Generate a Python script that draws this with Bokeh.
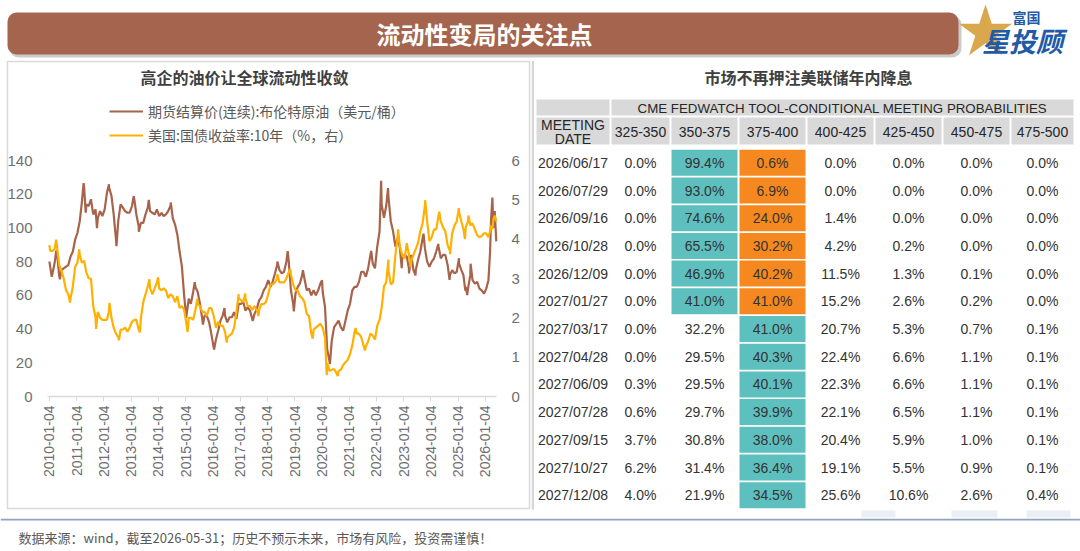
import math
import pandas as pd
from bokeh.plotting import figure
from bokeh.layouts import column, row
from bokeh.models import (Range1d, LinearAxis, FixedTicker, DatetimeTickFormatter,
                          Legend, LegendItem, Label, BoxAnnotation, ColumnDataSource)
from bokeh.core.properties import value
from bokeh.embed import file_html
from bokeh.resources import INLINE

# ---------------------------------------------------------------- data
# Brent front-month settlement (USD/bbl), mid-month readings 2010-01 .. 2025-12
brent_monthly = [
    77, 73, 79, 86, 72, 75, 76, 77, 78, 83, 86, 93,          # 2010
    97, 104, 115, 124, 114, 113, 117, 108, 111, 106, 110, 107,  # 2011
    111, 121, 124, 119, 108, 93, 104, 114, 112, 110, 109, 109,  # 2012
    113, 117, 108, 101, 103, 103, 108, 112, 110, 109, 108, 111,  # 2013
    107, 109, 107, 108, 110, 113, 106, 102, 96, 86, 77, 60,     # 2014
    48, 58, 55, 62, 65, 62, 55, 46, 48, 48, 44, 37,            # 2015
    29, 34, 39, 45, 48, 48, 44, 47, 47, 50, 46, 55,            # 2016
    55, 56, 51, 53, 51, 46, 49, 52, 57, 59, 63, 65,            # 2017
    69, 65, 68, 73, 78, 75, 73, 74, 80, 81, 63, 55,            # 2018
    61, 65, 67, 72, 70, 63, 64, 60, 63, 60, 63, 67,            # 2019
    62, 53, 28, 21, 33, 41, 43, 45, 41, 39, 45, 51,            # 2020
    55, 63, 65, 65, 68, 74, 74, 71, 76, 84, 79, 76,            # 2021
    89, 98, 114, 106, 113, 118, 104, 98, 89, 94, 88, 82,       # 2022
    84, 83, 76, 84, 75, 75, 81, 86, 94, 88, 80, 77,            # 2023
    80, 82, 86, 89, 82, 84, 84, 78, 72, 75, 73, 74,            # 2024
    79, 75, 72, 65, 64, 72, 69, 67, 68, 64, 63, 61,            # 2025
]
# turning points and the 2026 stretch
brent_extra_dates = [
    "2010-01-04", "2010-02-05", "2010-04-06", "2010-05-25", "2011-04-08", "2011-05-06",
    "2011-10-04", "2012-03-13", "2012-06-21", "2013-02-08", "2013-04-17", "2013-08-28",
    "2014-06-19", "2015-01-13", "2015-05-06", "2015-08-24", "2016-01-20", "2016-06-08",
    "2017-06-21", "2018-05-17", "2018-10-03", "2018-12-24", "2019-04-25", "2020-01-06",
    "2020-04-21", "2021-10-26", "2022-03-08", "2022-06-08", "2022-12-09", "2023-03-17",
    "2023-06-12", "2023-09-27", "2024-04-12", "2024-09-10", "2025-01-15", "2025-04-09",
    "2025-05-05", "2025-06-19",
    "2026-01-15", "2026-02-13", "2026-03-06", "2026-03-20", "2026-04-07", "2026-04-20",
    "2026-05-08", "2026-05-29",
]
brent_extra = [
    80.1, 71.0, 86.5, 69.5, 126.6, 109.1,
    99.8, 125.9, 89.2, 118.9, 97.7, 116.6,
    115.1, 46.6, 67.8, 42.7, 27.9, 52.5,
    44.8, 80.0, 86.3, 50.5, 75.0, 68.9,
    19.3, 86.4, 128.0, 123.6, 76.1, 73.0,
    71.8, 96.6, 90.5, 69.2, 82.0, 62.8,
    60.2, 78.8,
    64, 69, 85, 105, 118, 100,
    110, 92,
]

# US 10Y Treasury yield (%), mid-month readings 2010-01 .. 2025-12
ust10y_monthly = [
    3.70, 3.70, 3.75, 3.85, 3.35, 3.20, 3.00, 2.70, 2.60, 2.50, 2.80, 3.30,  # 2010
    3.40, 3.60, 3.40, 3.45, 3.15, 3.00, 3.00, 2.30, 2.00, 2.15, 2.00, 1.95,  # 2011
    1.95, 1.95, 2.20, 2.00, 1.75, 1.60, 1.50, 1.70, 1.70, 1.75, 1.65, 1.75,  # 2012
    1.90, 1.95, 1.95, 1.70, 2.00, 2.40, 2.60, 2.80, 2.75, 2.60, 2.75, 2.90,  # 2013
    2.75, 2.70, 2.75, 2.70, 2.50, 2.60, 2.55, 2.40, 2.55, 2.25, 2.30, 2.20,  # 2014
    1.85, 2.00, 2.00, 1.95, 2.20, 2.35, 2.30, 2.15, 2.15, 2.05, 2.25, 2.25,  # 2015
    2.05, 1.75, 1.90, 1.80, 1.80, 1.65, 1.50, 1.55, 1.60, 1.75, 2.15, 2.50,  # 2016
    2.45, 2.40, 2.50, 2.30, 2.30, 2.20, 2.30, 2.20, 2.20, 2.35, 2.35, 2.40,  # 2017
    2.60, 2.85, 2.85, 2.90, 3.00, 2.90, 2.90, 2.90, 3.00, 3.15, 3.10, 2.85,  # 2018
    2.70, 2.70, 2.55, 2.50, 2.40, 2.10, 2.05, 1.60, 1.70, 1.75, 1.80, 1.85,  # 2019
    1.75, 1.50, 0.85, 0.65, 0.68, 0.70, 0.60, 0.65, 0.68, 0.80, 0.87, 0.93,  # 2020
    1.08, 1.30, 1.62, 1.60, 1.60, 1.50, 1.30, 1.28, 1.40, 1.60, 1.55, 1.45,  # 2021
    1.80, 1.95, 2.25, 2.80, 2.90, 3.20, 2.85, 2.90, 3.60, 4.05, 3.80, 3.60,  # 2022
    3.50, 3.90, 3.60, 3.45, 3.60, 3.75, 3.90, 4.20, 4.40, 4.85, 4.45, 3.95,  # 2023
    4.05, 4.25, 4.25, 4.60, 4.45, 4.30, 4.20, 3.85, 3.70, 4.15, 4.35, 4.45,  # 2024
    4.70, 4.45, 4.25, 4.30, 4.45, 4.35, 4.40, 4.25, 4.10, 4.05, 4.08, 4.15,  # 2025
]
ust10y_extra_dates = [
    "2010-01-04", "2010-04-05", "2010-10-08", "2011-02-08", "2011-09-22", "2012-03-19",
    "2012-07-25", "2013-05-02", "2013-09-05", "2013-12-31", "2015-01-30", "2015-06-10",
    "2016-07-08", "2016-12-15", "2017-03-13", "2017-09-07", "2018-05-17", "2018-11-08",
    "2019-09-03", "2020-03-09", "2020-08-04", "2021-03-31", "2021-08-04", "2022-06-14",
    "2022-10-21", "2023-04-06", "2023-10-19", "2024-04-25", "2024-09-16", "2025-01-13",
    "2025-04-04", "2025-05-21",
    "2026-01-15", "2026-02-13", "2026-03-06", "2026-03-20", "2026-04-07", "2026-04-20",
    "2026-05-08", "2026-05-29",
]
ust10y_extra = [
    3.85, 3.99, 2.39, 3.74, 1.72, 2.38,
    1.43, 1.63, 2.98, 3.03, 1.64, 2.49,
    1.37, 2.60, 2.62, 2.05, 3.11, 3.24,
    1.47, 0.54, 0.52, 1.74, 1.17, 3.48,
    4.25, 3.29, 4.99, 4.70, 3.62, 4.79,
    4.00, 4.60,
    4.15, 4.05, 4.20, 4.35, 4.25, 4.50,
    4.60, 4.45,
]

year_ticks = ["2010-01-04", "2011-01-04", "2012-01-04", "2013-01-04", "2014-01-04",
              "2015-01-04", "2016-01-04", "2017-01-04", "2018-01-04", "2019-01-04",
              "2020-01-04", "2021-01-04", "2022-01-04", "2023-01-04", "2024-01-04",
              "2025-01-04", "2026-01-04"]
brent_ticks = [0, 20, 40, 60, 80, 100, 120, 140]
ust_ticks = [0, 1, 2, 3, 4, 5, 6]

# CME FedWatch conditional meeting probabilities (%)
meeting_dates = ["2026/06/17", "2026/07/29", "2026/09/16", "2026/10/28", "2026/12/09",
                 "2027/01/27", "2027/03/17", "2027/04/28", "2027/06/09", "2027/07/28",
                 "2027/09/15", "2027/10/27", "2027/12/08"]
rate_bins = ["325-350", "350-375", "375-400", "400-425", "425-450", "450-475", "475-500"]
current_bin = "375-400"
probs = [
    [0.0, 99.4, 0.6, 0.0, 0.0, 0.0, 0.0],
    [0.0, 93.0, 6.9, 0.0, 0.0, 0.0, 0.0],
    [0.0, 74.6, 24.0, 1.4, 0.0, 0.0, 0.0],
    [0.0, 65.5, 30.2, 4.2, 0.2, 0.0, 0.0],
    [0.0, 46.9, 40.2, 11.5, 1.3, 0.1, 0.0],
    [0.0, 41.0, 41.0, 15.2, 2.6, 0.2, 0.0],
    [0.0, 32.2, 41.0, 20.7, 5.3, 0.7, 0.1],
    [0.0, 29.5, 40.3, 22.4, 6.6, 1.1, 0.1],
    [0.3, 29.5, 40.1, 22.3, 6.6, 1.1, 0.1],
    [0.6, 29.7, 39.9, 22.1, 6.5, 1.1, 0.1],
    [3.7, 30.8, 38.0, 20.4, 5.9, 1.0, 0.1],
    [6.2, 31.4, 36.4, 19.1, 5.5, 0.9, 0.1],
    [4.0, 21.9, 34.5, 25.6, 10.6, 2.6, 0.4],
]

# ---------------------------------------------------------------- styling
BROWN = "#A8634B"
GOLD = "#FFB000"
TEAL = "#5EBFBF"
ORANGE = "#F5891F"
HEAD_GRAY = "#D9D9D9"
AXIS_TXT = "#6E6E6E"
CJK = "Noto Sans CJK SC"
SANS = "Liberation Sans"

# chart panel geometry (pixels inside the 531 x 458 chart figure)
BOX_L, BOX_R, BOX_T, BOX_B = 7, 529, 1, 448      # bordered panel
PLOT_L, PLOT_R = 47, 496                         # x extent of the time axis
Y_ZERO, Y_TOP = 336, 100                         # pixel rows of 0 and 140 (left axis)
X_START, X_END = pd.Timestamp("2009-12-10"), pd.Timestamp("2026-06-01")


def series(monthly, extra_dates, extra_vals):
    months = pd.date_range("2010-01-01", periods=len(monthly), freq="MS") + pd.Timedelta(days=14)
    s = pd.concat([pd.Series(monthly, index=months, dtype=float),
                   pd.Series(extra_vals, index=pd.to_datetime(extra_dates), dtype=float)])
    s = s.sort_index()
    return s.index, s.values


def blank(fig):
    fig.xgrid.grid_line_color = None
    fig.ygrid.grid_line_color = None
    fig.outline_line_color = None
    fig.background_fill_color = "white"
    fig.border_fill_color = "white"


# ---------------------------------------------------------------- header band
head = figure(width=1080, height=60, x_range=Range1d(0, 1080), y_range=Range1d(60, 0),
              x_axis_location=None, y_axis_location=None, title=None,
              output_backend="svg", toolbar_location=None, min_border=0)
blank(head)
head.add_layout(BoxAnnotation(left=9, right=961, top=15, bottom=57, fill_color="#8C8C8C",
                              fill_alpha=0.45, line_color=None, border_radius=9, level="underlay"))
head.add_layout(BoxAnnotation(left=7, right=958, top=12, bottom=54, fill_color="#A5644E",
                              fill_alpha=1, line_color=None, border_radius=9, level="underlay"))
head.text(x=[484], y=[33], text=["流动性变局的关注点"], text_align="center",
          text_baseline="middle", text_color="white", text_font_size="24px",
          text_font_style="bold", text_font=value(CJK))
head.scatter(x=[985], y=[32], marker="star", size=56, fill_color="#D9A74C", line_color=None)
head.text(x=[1026], y=[16], text=["富国"], text_align="center", text_baseline="middle",
          text_color="#1F5BA6", text_font_size="14px", text_font_style="bold",
          text_font=value(CJK))
head.text(x=[1022], y=[40], text=["星投顾"], text_align="center", text_baseline="middle",
          text_color="#1F5BA6", text_font_size="27px", text_font_style="bold italic",
          text_font=value(CJK))

# ---------------------------------------------------------------- line chart
b_dates, b_vals = series(brent_monthly, brent_extra_dates, brent_extra)
u_dates, u_vals = series(ust10y_monthly, ust10y_extra_dates, ust10y_extra)
src_b = ColumnDataSource(dict(date=b_dates, v=b_vals))
src_u = ColumnDataSource(dict(date=u_dates, v=u_vals))

# the frame covers the whole bordered panel; the ranges are widened so that the
# time axis and both value axes sit where the plot area is
start_ms = X_START.value / 1e6
end_ms = X_END.value / 1e6
ms_px = (end_ms - start_ms) / (PLOT_R - PLOT_L)
u_px = 140 / (Y_ZERO - Y_TOP)
x_rng = Range1d(start_ms - (PLOT_L - BOX_L) * ms_px, end_ms + (BOX_R - PLOT_R) * ms_px)
y_rng = Range1d(-(BOX_B - Y_ZERO) * u_px, 140 + (Y_TOP - BOX_T) * u_px)
k = 6 / 140
ust_rng = Range1d(y_rng.start * k, y_rng.end * k)

chart = figure(width=531, height=458, x_axis_type="datetime", x_range=x_rng, y_range=y_rng,
               title=None, output_backend="svg", toolbar_location=None,
               min_border_left=BOX_L, min_border_right=531 - BOX_R,
               min_border_top=BOX_T, min_border_bottom=458 - BOX_B)
blank(chart)
chart.frame_align = False
chart.outline_line_color = "#D9D9D9"
chart.outline_line_width = 1.5
chart.extra_y_ranges = {"ust": ust_rng}

r_b = chart.line("date", "v", source=src_b, line_color=BROWN, line_width=2.2)
r_u = chart.line("date", "v", source=src_u, line_color=GOLD, line_width=2.2, y_range_name="ust")

xa = chart.xaxis[0]
xa.fixed_location = 0
xa.bounds = (start_ms, end_ms)
xa.ticker = FixedTicker(ticks=[pd.Timestamp(d).value // 10**6 for d in year_ticks])
fmt = "%Y-%m-%d"
xa.formatter = DatetimeTickFormatter(milliseconds=fmt, seconds=fmt, minsec=fmt, minutes=fmt,
                                     hourmin=fmt, hours=fmt, days=fmt, months=fmt, years=fmt)
xa.major_label_orientation = math.pi / 2
xa.axis_line_color = "#D9D9D9"
xa.axis_line_width = 1.5
xa.major_tick_line_color = "#D9D9D9"
xa.major_tick_out = 5
xa.major_tick_in = 0
xa.minor_tick_line_color = None
xa.major_label_text_font_size = "14px"
xa.major_label_text_color = AXIS_TXT
xa.major_label_text_font = SANS
xa.major_label_standoff = 4

ya = chart.yaxis[0]
ya.fixed_location = start_ms
ya.ticker = FixedTicker(ticks=brent_ticks)
ya.axis_line_color = None
ya.major_tick_line_color = None
ya.minor_tick_line_color = None
ya.major_label_text_font_size = "15px"
ya.major_label_text_color = AXIS_TXT
ya.major_label_text_font = SANS
ya.major_label_standoff = 9

yr = LinearAxis(y_range_name="ust", ticker=FixedTicker(ticks=ust_ticks), fixed_location=end_ms)
yr.axis_line_color = None
yr.major_tick_line_color = None
yr.minor_tick_line_color = None
yr.major_label_text_font_size = "15px"
yr.major_label_text_color = AXIS_TXT
yr.major_label_text_font = SANS
yr.major_label_standoff = 9
chart.add_layout(yr, "right")

legend = Legend(items=[LegendItem(label="期货结算价(连续):布伦特原油（美元/桶）", renderers=[r_b]),
                       LegendItem(label="美国:国债收益率:10年（%，右）", renderers=[r_u])],
                location=(102, 363), padding=0, margin=0, spacing=4,
                glyph_width=34, glyph_height=20, label_standoff=5,
                label_text_font_size="14px", label_text_color="#595959",
                label_text_font=CJK, border_line_color=None, background_fill_alpha=0)
chart.add_layout(legend)

chart.add_layout(Label(x=237, y=432, x_units="screen", y_units="screen",
                       text="高企的油价让全球流动性收敛", text_align="center",
                       text_baseline="middle", text_font_size="16px", text_font_style="bold",
                       text_color="#404040", text_font=CJK))

# ---------------------------------------------------------------- probability table
tbl = figure(width=549, height=458, x_range=Range1d(531, 1080), y_range=Range1d(518, 60),
             x_axis_location=None, y_axis_location=None, title=None,
             output_backend="svg", toolbar_location=None, min_border=0)
blank(tbl)
tbl.frame_align = False

date_l, date_r = 536, 609
col_l = [611, 671, 739, 807, 875, 943, 1011]
col_r = [669, 737, 805, 873, 941, 1009, 1073]
col_c = [(a + b) / 2 for a, b in zip(col_l, col_r)]
row0, pitch, half = 162.3, 27.7, 13.0
row_c = [row0 + pitch * i for i in range(len(meeting_dates))]

tbl.quad(left=[531], right=[533.5], top=[60], bottom=[509], fill_color="#D6D6D6", line_color=None)
# faint watermark blocks along the lower edge
tbl.quad(left=[861, 951, 1026], right=[895, 997, 1070], top=[510] * 3, bottom=[517] * 3,
         fill_color="#EAEFF6", line_color=None)
tbl.text(x=[808], y=[76], text=["市场不再押注美联储年内降息"], text_align="center",
         text_baseline="middle", text_font_size="16px", text_font_style="bold",
         text_color="#404040", text_font=value(CJK))

# header blocks
tbl.quad(left=[date_l, col_l[0]], right=[date_r, col_r[-1]], top=[99, 99], bottom=[115, 115],
         fill_color=HEAD_GRAY, line_color=None)
tbl.quad(left=[date_l] + col_l, right=[date_r] + col_r, top=[117] * 8, bottom=[144] * 8,
         fill_color=HEAD_GRAY, line_color=None)
tbl.text(x=[(col_l[0] + col_r[-1]) / 2], y=[107.5],
         text=["CME FEDWATCH TOOL-CONDITIONAL MEETING PROBABILITIES"],
         text_align="center", text_baseline="middle", text_font_size="13.3px",
         text_color="#262626", text_font=value(SANS))
tbl.text(x=[(date_l + date_r) / 2] * 2, y=[124, 138.5], text=["MEETING", "DATE"],
         text_align="center", text_baseline="middle", text_font_size="14px",
         text_color="#262626", text_font=value(SANS))
tbl.text(x=col_c, y=[131] * len(rate_bins), text=rate_bins, text_align="center",
         text_baseline="middle", text_font_size="14px", text_color="#262626",
         text_font=value(SANS))

# highlighted cells: most likely bin in teal, current target bin in orange
cur = rate_bins.index(current_bin)
hl_l, hl_r, hl_t, hl_b, hl_c = [], [], [], [], []
for i, rowp in enumerate(probs):
    top_j = max(range(len(rowp)), key=lambda j: (rowp[j], -j))
    marks = [(top_j, TEAL)]
    if top_j != cur:
        marks.append((cur, ORANGE))
    for j, c in marks:
        hl_l.append(col_l[j]); hl_r.append(col_r[j])
        hl_t.append(row_c[i] - half); hl_b.append(row_c[i] + half); hl_c.append(c)
tbl.quad(left=hl_l, right=hl_r, top=hl_t, bottom=hl_b, fill_color=hl_c, line_color=None)

cell_x, cell_y, cell_txt = [], [], []
for i, rowp in enumerate(probs):
    cell_x.append((date_l + date_r) / 2); cell_y.append(row_c[i]); cell_txt.append(meeting_dates[i])
    for j, v in enumerate(rowp):
        cell_x.append(col_c[j]); cell_y.append(row_c[i]); cell_txt.append(f"{v:.1f}%")
tbl.text(x=cell_x, y=cell_y, text=cell_txt, text_align="center", text_baseline="middle",
         text_font_size="14px", text_color="#333333", text_font=value(SANS))

# ---------------------------------------------------------------- footer
foot = figure(width=1080, height=33, x_range=Range1d(0, 1080), y_range=Range1d(551, 518),
              x_axis_location=None, y_axis_location=None, title=None,
              output_backend="svg", toolbar_location=None, min_border=0)
blank(foot)
foot.quad(left=[0], right=[1080], top=[518], bottom=[520], fill_color="#8EA4BF", line_color=None)
foot.text(x=[18], y=[537], text=["数据来源：wind，截至2026-05-31；历史不预示未来，市场有风险，投资需谨慎！"],
          text_align="left", text_baseline="middle", text_font_size="13px",
          text_color="#595959", text_font=value(CJK))

page = column(head, row(chart, tbl, spacing=0), foot, spacing=0)
open("out.html", "w").write(file_html(page, INLINE))
